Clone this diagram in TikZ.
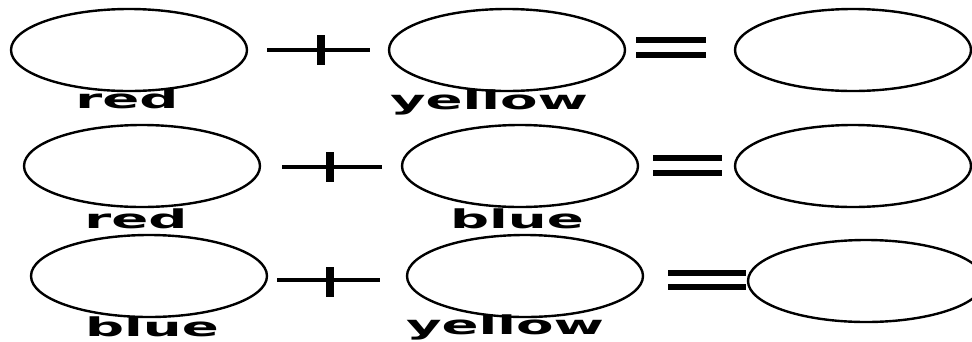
\documentclass[tikz,border=0pt]{standalone}
\usepackage{fontspec}
\newfontfamily\wordfont[FakeStretch=2.1]{DejaVu Sans Bold}
\usetikzlibrary{shapes.geometric}

\begin{document}
\begin{tikzpicture}[
  x=1pt,y=-1pt,
  paint/.style={draw,ellipse,line width=2.4pt,minimum width=236pt,minimum height=82pt,inner sep=0pt},
  word/.style={anchor=base,inner sep=0pt,font=\wordfont\fontsize{26}{30}\selectfont},
  thinbar/.style={line width=3.5pt},
  thickbar/.style={line width=8pt},
  eqbar/.style={line width=5.5pt}
]
  \useasboundingbox (0,0) rectangle (972,341);

  % red + yellow
  \node[paint] (r1a) at (129,50) {};
  \node[paint] (r1b) at (507,50) {};
  \node[paint] (r1c) at (853,50) {};
  \draw[thinbar] (267,50) -- (370,50);
  \draw[thickbar] (321,35) -- (321,65);
  \draw[eqbar] (636,40) -- (706,40);
  \draw[eqbar] (636,55) -- (706,55);
  \node[word] (l1a) at (127,108) {red};
  \node[word] (l1b) at (489,109) {yellow};

  % red + blue
  \node[paint] (r2a) at (142,166) {};
  \node[paint] (r2b) at (520,166) {};
  \node[paint] (r2c) at (853,166) {};
  \draw[thinbar] (282,167) -- (382,167);
  \draw[thickbar] (330,152) -- (330,182);
  \draw[eqbar] (653,158) -- (722,158);
  \draw[eqbar] (653,173) -- (722,173);
  \node[word] (l2a) at (136,228) {red};
  \node[word] (l2b) at (517,228) {blue};

  % blue + yellow
  \node[paint] (r3a) at (149,276) {};
  \node[paint] (r3b) at (525,276) {};
  \node[paint] (r3c) at (866,281) {};
  \draw[thinbar] (277,280) -- (380,280);
  \draw[thickbar] (330,267) -- (330,297);
  \draw[eqbar] (668,273) -- (746,273);
  \draw[eqbar] (668,287) -- (746,287);
  \node[word] (l3a) at (152,336) {blue};
  \node[word] (l3b) at (505,334) {yellow};
\end{tikzpicture}
\end{document}
